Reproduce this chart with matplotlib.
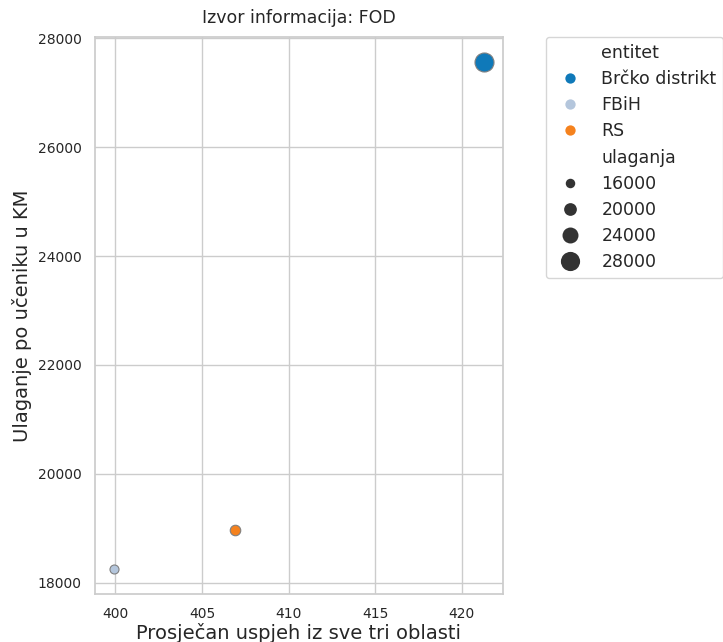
import matplotlib
matplotlib.use("Agg")
import matplotlib.pyplot as plt
from matplotlib.lines import Line2D
import seaborn as sns

# data
entiteti = ['Brčko distrikt', 'FBiH', 'RS']
uspjeh = [421.3, 399.9, 406.9]
ulaganje = [27559, 18257, 18974]
ulaganja = [27750, 15400, 17250]
boje = ['#0f79b9', '#b4c6dc', '#f5821e']
legenda_nivoi = [16000, 20000, 24000, 28000]

sns.set_theme(style="whitegrid")
plt.rcParams['font.family'] = ['DejaVu Sans']


def promjer(v):
    # marker diameter in points, grows with ulaganja
    return (9.5 + (v - 16000) * 9.7 / 12000) * 0.72


fig = plt.figure(figsize=(7.23, 6.42), dpi=100)
ax = fig.add_axes([95 / 723, 48 / 642, 408 / 723, 557 / 642])

for e, x, y, u, c in zip(entiteti, uspjeh, ulaganje, ulaganja, boje):
    ax.scatter(x, y, s=promjer(u) ** 2, color=c, edgecolor='grey', linewidth=0.8, zorder=3)

ax.set_xticks([400, 405, 410, 415, 420])
ax.set_yticks([18000, 20000, 22000, 24000, 26000, 28000])
ax.tick_params(labelsize=10, colors='#262626')
ax.set_title('Izvor informacija: FOD', fontsize=12.5, pad=10)
ax.set_xlabel('Prosječan uspjeh iz sve tri oblasti', fontsize=14, labelpad=1.5)
ax.set_ylabel('Ulaganje po učeniku u KM', fontsize=14, labelpad=4)

handles = [Line2D([], [], linestyle='none')]
labels = ['entitet']
for e, c in zip(entiteti, boje):
    handles.append(Line2D([], [], linestyle='none', marker='o', markersize=promjer(17000),
                          markerfacecolor=c, markeredgewidth=0))
    labels.append(e)
handles.append(Line2D([], [], linestyle='none'))
labels.append('ulaganja')
for n in legenda_nivoi:
    handles.append(Line2D([], [], linestyle='none', marker='o', markersize=promjer(n),
                          markerfacecolor='#333333', markeredgewidth=0))
    labels.append(str(n))
ax.legend(handles, labels, loc='upper left', bbox_to_anchor=(1.105, 1), borderaxespad=0,
          fontsize=12.5, labelspacing=0.47, frameon=True)

fig.savefig('out.png', dpi=100)
